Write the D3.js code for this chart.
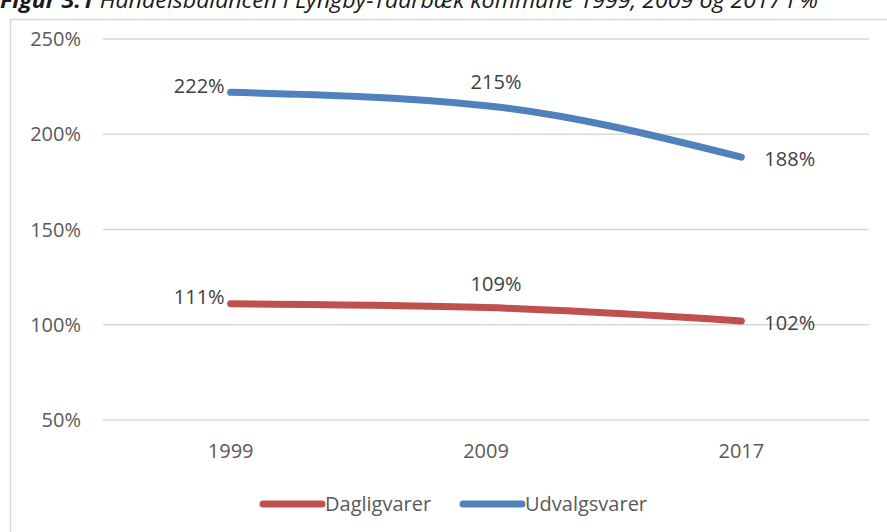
<!DOCTYPE html>
<html>
<head>
<meta charset="utf-8">
<script src="https://cdn.jsdelivr.net/npm/d3@7"></script>
<style>
  body { margin: 0; background: #fff; }
  text { font-family: "Open Sans", sans-serif; }
</style>
</head>
<body>
<script>
const w = 887, h = 532;

const years = ['1999', '2009', '2017'];
const dagligvarer = [111, 109, 102];
const udvalgsvarer = [222, 215, 188];
const yTicks = [50, 100, 150, 200, 250];

const series = [
  {name: 'Dagligvarer', values: dagligvarer, color: '#C0504D'},
  {name: 'Udvalgsvarer', values: udvalgsvarer, color: '#4F81BD'}
];

// label positions like the excel chart: left, above, right
const labelPos = ['left', 'above', 'right'];

const svg = d3.select('body').append('svg')
  .attr('width', w)
  .attr('height', h);

// title, cut off at the top like in the source
svg.append('text')
  .attr('x', 0)
  .attr('y', 8)
  .attr('font-size', '21px')
  .attr('font-style', 'italic')
  .attr('fill', '#1a1a1a')
  .attr('textLength', 818)
  .attr('lengthAdjust', 'spacingAndGlyphs')
  .call(t => {
    t.append('tspan').attr('font-weight', 'bold').text('Figur 3.1 ');
    t.append('tspan').text('Handelsbalancen i Lyngby-Taarbæk kommune 1999, 2009 og 2017 i %');
  });

// chart frame
svg.append('rect')
  .attr('x', 10.5)
  .attr('y', 19.5)
  .attr('width', 900)
  .attr('height', 600)
  .attr('fill', 'none')
  .attr('stroke', '#d9d9d9')
  .attr('stroke-width', 1.5);

const x = d3.scaleBand()
  .domain(years)
  .range([103, 869]);

const y = d3.scaleLinear()
  .domain([50, 250])
  .range([420, 39]);

// gridlines
svg.append('g')
  .selectAll('line')
  .data(yTicks)
  .enter()
  .append('line')
  .attr('x1', 103)
  .attr('x2', 869)
  .attr('y1', d => y(d))
  .attr('y2', d => y(d))
  .attr('stroke', '#d9d9d9')
  .attr('stroke-width', 1.5);

// y axis labels
svg.append('g')
  .selectAll('text')
  .data(yTicks)
  .enter()
  .append('text')
  .text(d => d + '%')
  .attr('x', 81)
  .attr('y', d => y(d))
  .attr('dy', '.36em')
  .attr('text-anchor', 'end')
  .attr('font-size', '20px')
  .attr('fill', '#595959');

// x axis labels
svg.append('g')
  .selectAll('text')
  .data(years)
  .enter()
  .append('text')
  .text(d => d)
  .attr('x', d => x(d) + x.bandwidth() / 2)
  .attr('y', 458)
  .attr('text-anchor', 'middle')
  .attr('font-size', '20px')
  .attr('fill', '#595959');

const lineFun = d3.line()
  .x((d, i) => x(years[i]) + x.bandwidth() / 2)
  .y(d => y(d))
  .curve(d3.curveMonotoneX);

series.forEach(s => {
  svg.append('path')
    .attr('d', lineFun(s.values))
    .attr('fill', 'none')
    .attr('stroke', s.color)
    .attr('stroke-width', 7)
    .attr('stroke-linecap', 'round')
    .attr('stroke-linejoin', 'round');

  svg.append('g')
    .selectAll('text')
    .data(s.values)
    .enter()
    .append('text')
    .text(d => d + '%')
    .attr('x', (d, i) => {
      const cx = x(years[i]) + x.bandwidth() / 2;
      if (labelPos[i] === 'left') return cx - 6;
      if (labelPos[i] === 'right') return cx + 23;
      return cx + 10;
    })
    .attr('y', (d, i) => {
      const cy = y(d);
      if (labelPos[i] === 'left') return cy - 7;
      if (labelPos[i] === 'right') return cy + 2;
      return cy - 24;
    })
    .attr('dy', '.36em')
    .attr('text-anchor', (d, i) => {
      if (labelPos[i] === 'left') return 'end';
      if (labelPos[i] === 'right') return 'start';
      return 'middle';
    })
    .attr('font-size', '20px')
    .attr('fill', '#404040');
});

// legend
const legend = svg.append('g')
  .selectAll('g')
  .data(series)
  .enter()
  .append('g')
  .attr('transform', (d, i) => `translate(${263 + i * 200},504)`);

legend.append('line')
  .attr('x1', 0)
  .attr('x2', 59)
  .attr('stroke', d => d.color)
  .attr('stroke-width', 7)
  .attr('stroke-linecap', 'round');

legend.append('text')
  .text(d => d.name)
  .attr('x', 62)
  .attr('dy', '.36em')
  .attr('font-size', '20px')
  .attr('fill', '#595959');
</script>
</body>
</html>
